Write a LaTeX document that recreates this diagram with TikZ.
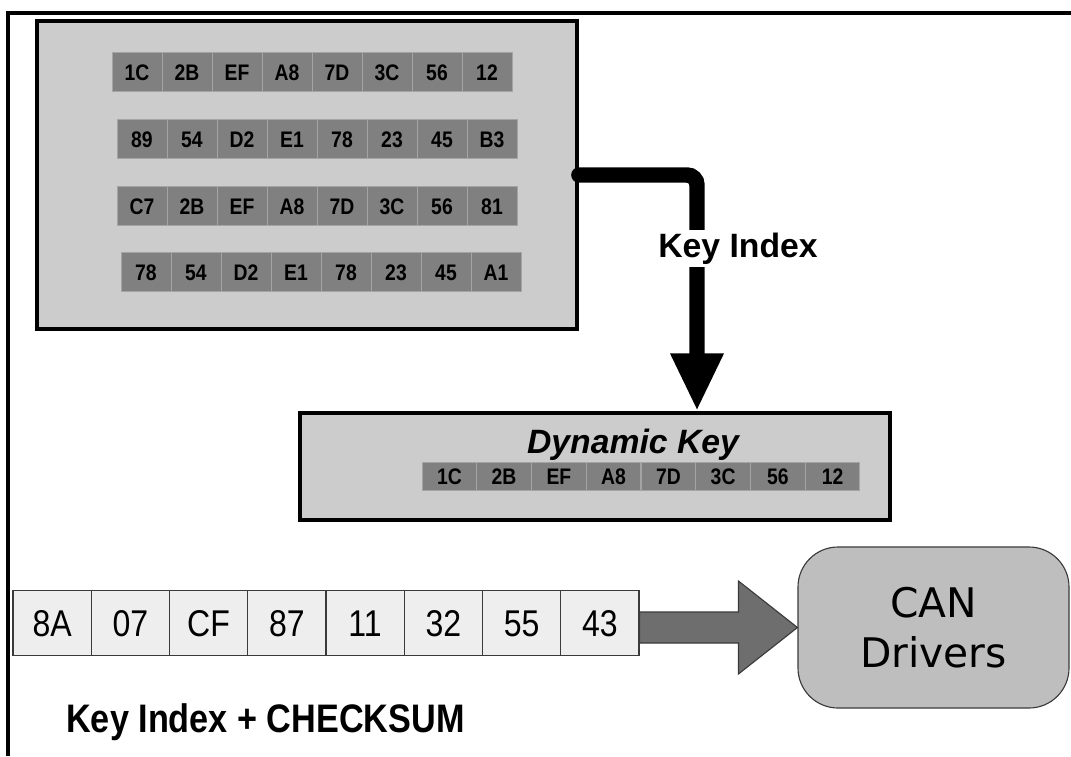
\documentclass[tikz,border=0pt]{standalone}
\usepackage{xcolor}
\usepackage{fontspec}
\setmainfont{Liberation Sans}
\newfontfamily\narrowsans[FakeStretch=0.86]{Liberation Sans}
\newfontfamily\canfont{DejaVu Sans}
\usepackage{tikz}
\usetikzlibrary{arrows.meta,calc}

\definecolor{panelgray}{HTML}{CCCCCC}
\definecolor{keygray}{HTML}{808080}
\definecolor{keyedge}{HTML}{A4A4A4}
\definecolor{msggray}{HTML}{EEEEEE}
\definecolor{darkedge}{HTML}{3A3A3A}
\definecolor{arrowgray}{HTML}{6E6E6E}
\definecolor{cangray}{HTML}{BEBEBE}

\begin{document}
\begin{tikzpicture}[x=0.25mm,y=-0.25mm,
  panel/.style={draw=black,line width=2.7pt,fill=panelgray,inner sep=0pt},
  keycell/.style={draw=keyedge,line width=0.7pt,fill=keygray,inner sep=0pt,
    minimum width=12.5mm,minimum height=9.75mm,text height=11.4pt,text depth=0pt,
    font=\fontsize{16}{18}\selectfont\narrowsans\bfseries},
  dyncell/.style={keycell,minimum width=13.69mm,minimum height=7mm},
  msgcell/.style={draw=darkedge,line width=0.8pt,fill=msggray,inner sep=0pt,
    minimum width=19.56mm,minimum height=16.25mm,text height=19pt,text depth=0pt,
    font=\fontsize{26.5}{28}\selectfont\narrowsans},
  keyline/.style={line width=11pt,line cap=round,rounded corners=2.5mm,
    -{Triangle[width=35pt,length=41pt]}},
  blockarrow/.style={draw=darkedge,line width=0.8pt,fill=arrowgray},
  bigtext/.style={font=\fontsize{24}{27}\selectfont\bfseries}]
\useasboundingbox (0,0) rectangle (1071,756);
%\draw[step=50,red,thin] (0,0) grid (1071,756);
\draw[line width=2.2pt] (1071,13) -- (8,13) -- (8,756);

% key table
\node[panel,minimum width=135mm,minimum height=77mm] (keys) at (307,175) {};

\node[keycell] (ka1) at (137,72) {1C};
\node[keycell] (ka2) at (187,72) {2B};
\node[keycell] (ka3) at (237,72) {EF};
\node[keycell] (ka4) at (287,72) {A8};
\node[keycell] (ka5) at (337,72) {7D};
\node[keycell] (ka6) at (387,72) {3C};
\node[keycell] (ka7) at (437,72) {56};
\node[keycell] (ka8) at (487,72) {12};

\node[keycell] (kb1) at (142,139) {89};
\node[keycell] (kb2) at (192,139) {54};
\node[keycell] (kb3) at (242,139) {D2};
\node[keycell] (kb4) at (292,139) {E1};
\node[keycell] (kb5) at (342,139) {78};
\node[keycell] (kb6) at (392,139) {23};
\node[keycell] (kb7) at (442,139) {45};
\node[keycell] (kb8) at (492,139) {B3};

\node[keycell] (kc1) at (142,206) {C7};
\node[keycell] (kc2) at (192,206) {2B};
\node[keycell] (kc3) at (242,206) {EF};
\node[keycell] (kc4) at (292,206) {A8};
\node[keycell] (kc5) at (342,206) {7D};
\node[keycell] (kc6) at (392,206) {3C};
\node[keycell] (kc7) at (442,206) {56};
\node[keycell] (kc8) at (492,206) {81};

\node[keycell] (kd1) at (146,272) {78};
\node[keycell] (kd2) at (196,272) {54};
\node[keycell] (kd3) at (246,272) {D2};
\node[keycell] (kd4) at (296,272) {E1};
\node[keycell] (kd5) at (346,272) {78};
\node[keycell] (kd6) at (396,272) {23};
\node[keycell] (kd7) at (446,272) {45};
\node[keycell] (kd8) at (496,272) {A1};

% dynamic key
\node[panel,minimum width=147.5mm,minimum height=26.75mm] (dyn) at (595,466.5) {};
\node[bigtext,anchor=base] (dyntitle) at (633,453) {\itshape Dynamic Key};

\node[dyncell] (dk1) at (449.4,476) {1C};
\node[dyncell] (dk2) at (504.1,476) {2B};
\node[dyncell] (dk3) at (558.9,476) {EF};
\node[dyncell] (dk4) at (613.6,476) {A8};
\node[dyncell] (dk5) at (668.4,476) {7D};
\node[dyncell] (dk6) at (723.1,476) {3C};
\node[dyncell] (dk7) at (777.9,476) {56};
\node[dyncell] (dk8) at (832.6,476) {12};

\coordinate (kturn) at (697,175);
\draw[keyline] (keys.east) -- (kturn) -- (kturn |- dyn.north);
\node[bigtext,fill=white,inner sep=2pt,anchor=base] (keyidx) at (738,257) {Key Index};

% message
\node[msgcell] (m1) at (52.1,623) {8A};
\node[msgcell] (m2) at (130.4,623) {07};
\node[msgcell] (m3) at (208.6,623) {CF};
\node[msgcell] (m4) at (286.9,623) {87};
\node[msgcell] (m5) at (365.1,623) {11};
\node[msgcell] (m6) at (443.4,623) {32};
\node[msgcell] (m7) at (521.6,623) {55};
\node[msgcell] (m8) at (599.9,623) {43};

\node[font=\fontsize{28.3}{30}\selectfont\narrowsans\bfseries,anchor=base west,inner sep=0pt] (chk) at (66,732) {Key Index + CHECKSUM};

\node[draw=darkedge,line width=0.8pt,fill=cangray,rounded corners=10mm,
  minimum width=67.75mm,minimum height=40.25mm,align=center,
  font=\fontsize{29}{35.6}\selectfont\canfont] (can) at (933.5,627.5) {CAN\\Drivers};

\draw[blockarrow] ($(can.west)+(-158,-15.5)$) -- ++(99,0) -- ++(0,-31) -- (can.west)
  -- ++(-59,46.5) -- ++(0,-31) -- ++(-99,0) -- cycle;

\end{tikzpicture}
\end{document}
